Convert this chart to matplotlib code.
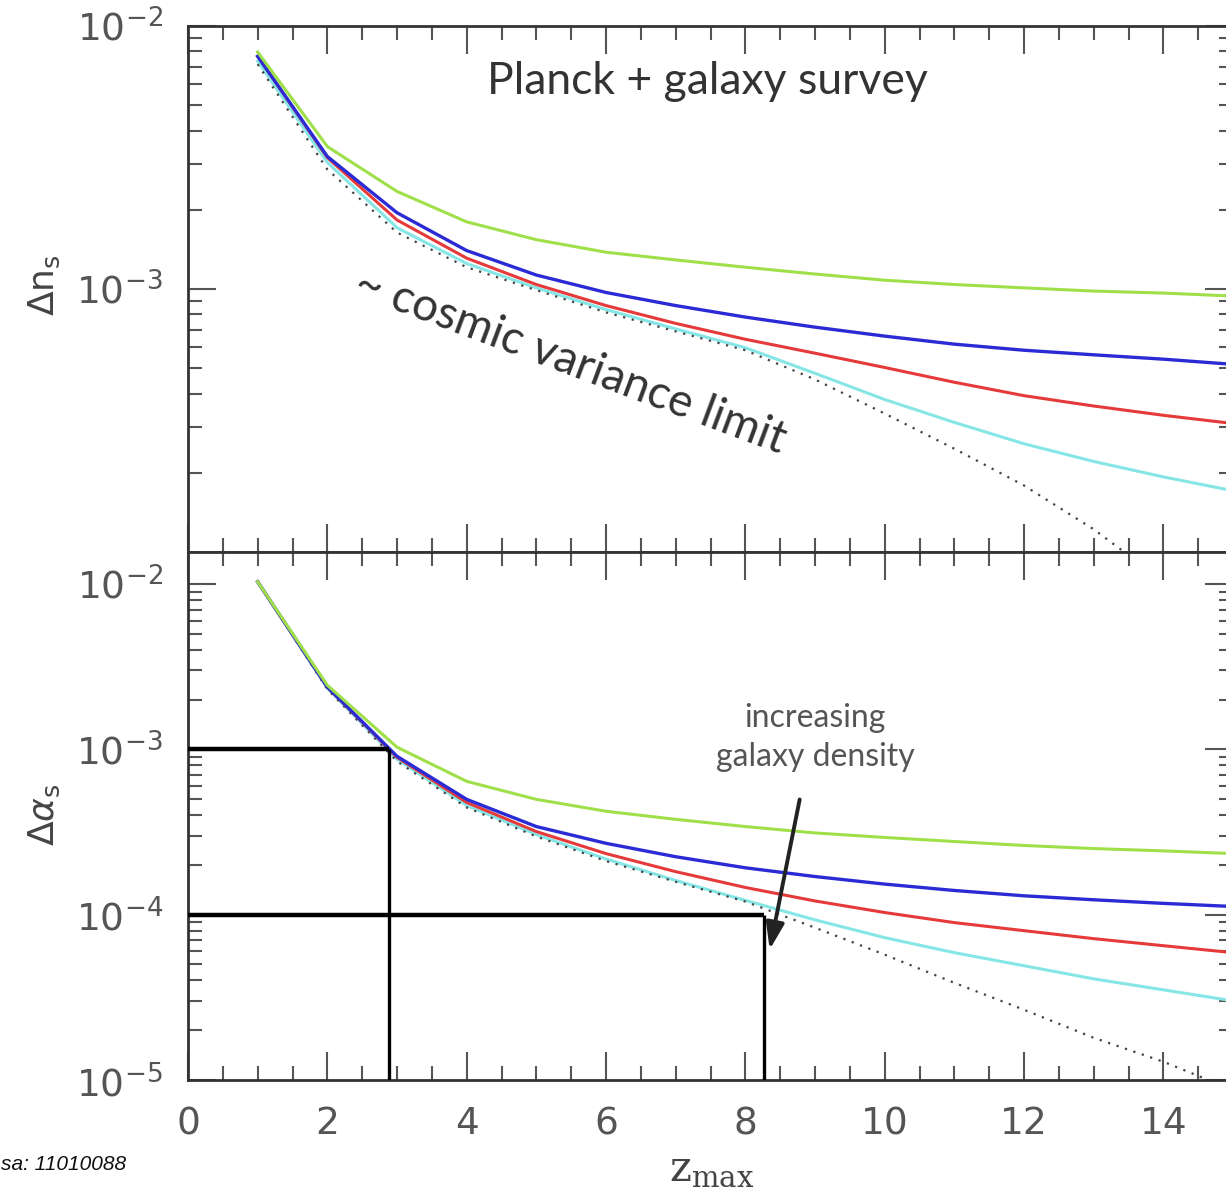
import matplotlib
matplotlib.use("Agg")
import matplotlib.pyplot as plt
from matplotlib.ticker import FixedLocator, LogLocator, MultipleLocator, FuncFormatter, NullFormatter
import numpy as np

# maximum survey redshift
z_max = [1, 2, 3, 4, 5, 6, 7, 8, 9, 10, 11, 12, 13, 14, 15]

# forecast error on the spectral index n_s (units of 1e-3)
ns_green = [7.96, 3.48, 2.35, 1.80, 1.54, 1.38, 1.29, 1.21, 1.14, 1.08, 1.04, 1.01, 0.982, 0.965, 0.94]
ns_blue = [7.67, 3.19, 1.95, 1.40, 1.13, 0.97, 0.865, 0.782, 0.716, 0.662, 0.617, 0.585, 0.562, 0.541, 0.517]
ns_red = [7.67, 3.16, 1.83, 1.31, 1.04, 0.865, 0.740, 0.644, 0.570, 0.503, 0.442, 0.393, 0.359, 0.331, 0.308]
ns_cyan = [7.35, 3.03, 1.71, 1.25, 1.01, 0.835, 0.705, 0.598, 0.478, 0.380, 0.311, 0.258, 0.221, 0.193, 0.171]
ns_cv = [7.16, 2.85, 1.64, 1.21, 0.99, 0.815, 0.690, 0.585, 0.453, 0.336, 0.247, 0.179, 0.122, 0.0775, 0.046]

# forecast error on the running alpha_s (units of 1e-3)
as_green = [10.3, 2.44, 1.03, 0.640, 0.498, 0.422, 0.377, 0.341, 0.312, 0.293, 0.277, 0.262, 0.251, 0.243, 0.234]
as_blue = [10.3, 2.38, 0.907, 0.498, 0.341, 0.270, 0.224, 0.192, 0.170, 0.153, 0.140, 0.130, 0.123, 0.117, 0.112]
as_red = [10.3, 2.38, 0.895, 0.477, 0.318, 0.234, 0.182, 0.146, 0.121, 0.103, 0.0895, 0.080, 0.0716, 0.0649, 0.0589]
as_cyan = [10.3, 2.34, 0.870, 0.458, 0.305, 0.217, 0.161, 0.122, 0.093, 0.0726, 0.0589, 0.0491, 0.0409, 0.0351, 0.0301]
as_cv = [10.3, 2.31, 0.846, 0.445, 0.297, 0.211, 0.158, 0.120, 0.0834, 0.0573, 0.0387, 0.0266, 0.0180, 0.0129, 0.0087]

# target precisions on alpha_s and the redshift needed to reach them
alpha_targets = [1e-3, 1e-4]
z_needed = [2.88, 8.27]

scale = 1e-3
colors = {"green": "#9fe04a", "blue": "#2b2bd6", "red": "#e63a3a", "cyan": "#86e6e6"}

fig = plt.figure(figsize=(12.26, 11.94), dpi=100)
W, H = 1226.0, 1194.0
ax1 = fig.add_axes([188 / W, 1 - 552 / H, 1045 / W, 526 / H])
ax2 = fig.add_axes([188 / W, 1 - 1080 / H, 1045 / W, 528 / H], sharex=ax1)

zz = np.array(z_max, dtype=float)


def draw_curves(ax, g, b, r, c, cv):
    ax.plot(zz, np.array(c) * scale, color=colors["cyan"], lw=2.2, zorder=2)
    ax.plot(zz, np.array(cv) * scale, color="#444444", lw=1.6,
            linestyle=(0, (1, 3)), zorder=3)
    ax.plot(zz, np.array(r) * scale, color=colors["red"], lw=2.2, zorder=4)
    ax.plot(zz, np.array(b) * scale, color=colors["blue"], lw=2.4, zorder=5)
    ax.plot(zz, np.array(g) * scale, color=colors["green"], lw=2.2, zorder=6)


draw_curves(ax1, ns_green, ns_blue, ns_red, ns_cyan, ns_cv)
draw_curves(ax2, as_green, as_blue, as_red, as_cyan, as_cv)

ax1.set_yscale("log")
ax2.set_yscale("log")
ax1.set_xlim(0, 15)
ax1.set_ylim(1e-4, 1e-2)
ax2.set_ylim(1e-5, 1.56e-2)


def pow10(v, pos):
    e = int(round(np.log10(v)))
    return r"$\mathregular{10^{%d}}$" % e


for ax in (ax1, ax2):
    ax.xaxis.set_major_locator(MultipleLocator(2))
    ax.xaxis.set_minor_locator(MultipleLocator(0.5))
    ax.yaxis.set_minor_locator(LogLocator(base=10, subs=np.arange(2, 10)))
    ax.yaxis.set_minor_formatter(NullFormatter())
    ax.yaxis.set_major_formatter(FuncFormatter(pow10))
    ax.tick_params(which="both", direction="in", top=True, right=True,
                   color="#555555", width=1.5, labelsize=27, labelcolor="#555555")
    ax.tick_params(which="major", length=20)
    ax.tick_params(which="minor", length=10)
    ax.tick_params(axis="y", pad=18)
    ax.tick_params(axis="x", pad=19)
    for s in ax.spines.values():
        s.set_color("#333333")
        s.set_linewidth(2.0)

ax1.yaxis.set_major_locator(FixedLocator([1e-3, 1e-2]))
ax2.yaxis.set_major_locator(FixedLocator([1e-5, 1e-4, 1e-3, 1e-2]))
ax1.tick_params(labelbottom=False)

ax1.set_ylabel(r"$\Delta\mathregular{n_s}$", fontsize=26, color="#444444")
ax1.yaxis.set_label_coords(-0.121, 0.508)
ax2.set_ylabel(r"$\Delta\alpha_\mathregular{s}$", fontsize=26, color="#444444")
ax2.yaxis.set_label_coords(-0.121, 0.502)
ax2.set_xlabel(r"$\mathregular{z_{max}}$", fontsize=30, color="#444444",
               family="DejaVu Serif")
ax2.xaxis.set_label_coords(0.501, -0.128)

# precision targets on the running
for a_t, z_t in zip(alpha_targets, z_needed):
    ax2.plot([0, z_t], [a_t, a_t], color="black", lw=3.2, zorder=8,
             solid_capstyle="butt")
    ax2.plot([z_t, z_t], [a_t, 1e-5], color="black", lw=2.4, zorder=8,
             solid_capstyle="butt")

# annotations
ax1.text(0.497, 0.894, "Planck + galaxy survey", transform=ax1.transAxes,
         ha="center", va="center", fontsize=32, color="#333333", family="Lato")
ax1.text(0.366, 0.361, "~ cosmic variance limit", transform=ax1.transAxes,
         ha="center", va="center", fontsize=33, color="#333333", family="Lato",
         rotation=-20.5, rotation_mode="anchor")
ax2.text(9.0, 1.18e-3, "increasing\ngalaxy density", ha="center", va="center",
         fontsize=23, color="#555555", family="Lato", linespacing=1.35)
ax2.annotate("", xy=(8.35, 0.0615e-3), xytext=(8.78, 0.497e-3),
             arrowprops=dict(arrowstyle="-|>,head_length=1.6,head_width=0.55",
                             color="#222222", lw=2.8, shrinkA=0, shrinkB=0),
             zorder=9)

fig.text(0.001, 1 - 1170 / H, "sa: 11010088", ha="left", va="baseline",
         fontsize=15, style="italic", family="Liberation Sans", color="#111111")

fig.savefig("out.png", dpi=100, facecolor="white")
